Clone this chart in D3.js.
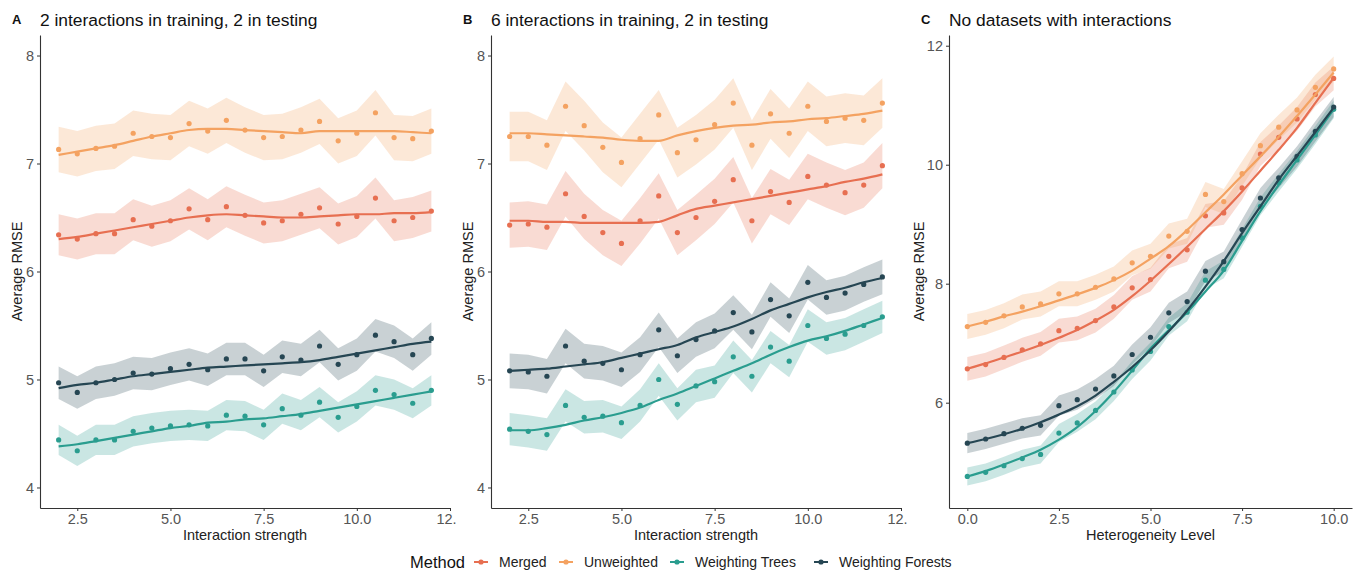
<!DOCTYPE html>
<html>
<head>
<meta charset="utf-8">
<script src="https://cdn.jsdelivr.net/npm/d3@7"></script>
<style>
  body { margin: 0; background: #fff; }
  svg { font-family: "Liberation Sans", Arial, sans-serif; }
</style>
</head>
<body>
<div id="chart"></div>
<script>
// x levels
const strengthLevels = [2, 2.5, 3, 3.5, 4, 4.5, 5, 5.5, 6, 6.5, 7, 7.5, 8, 8.5, 9, 9.5, 10, 10.5, 11, 11.5, 12];
const heterogeneityLevels = [0, 0.5, 1, 1.5, 2, 2.5, 3, 3.5, 4, 4.5, 5, 5.5, 6, 6.5, 7, 7.5, 8, 8.5, 9, 9.5, 10];

const methods = ['Merged', 'Unweighted', 'Weighting Trees', 'Weighting Forests'];
const methodColors = ['#e76f51', '#f4a261', '#2a9d8f', '#264653'];

// panel A: 2 interactions in training, 2 in testing
const aMerged = [6.34, 6.30, 6.35, 6.35, 6.48, 6.42, 6.47, 6.58, 6.48, 6.60, 6.52, 6.45, 6.47, 6.53, 6.59, 6.44, 6.51, 6.68, 6.47, 6.50, 6.56];
const aUnweighted = [7.13, 7.09, 7.14, 7.16, 7.28, 7.25, 7.24, 7.37, 7.30, 7.40, 7.31, 7.24, 7.25, 7.31, 7.39, 7.21, 7.28, 7.47, 7.24, 7.23, 7.30];
const aTrees = [4.44, 4.34, 4.44, 4.44, 4.52, 4.55, 4.57, 4.58, 4.57, 4.67, 4.66, 4.58, 4.73, 4.67, 4.79, 4.65, 4.75, 4.90, 4.86, 4.78, 4.90];
const aForests = [4.97, 4.88, 4.97, 5.00, 5.06, 5.05, 5.10, 5.14, 5.09, 5.19, 5.19, 5.08, 5.21, 5.18, 5.31, 5.14, 5.23, 5.41, 5.35, 5.23, 5.38];
const aMergedFit = [6.30, 6.32, 6.35, 6.38, 6.41, 6.44, 6.47, 6.50, 6.52, 6.53, 6.52, 6.51, 6.50, 6.50, 6.51, 6.52, 6.53, 6.53, 6.54, 6.54, 6.55];
const aUnweightedFit = [7.08, 7.11, 7.14, 7.17, 7.21, 7.25, 7.28, 7.31, 7.32, 7.32, 7.31, 7.30, 7.29, 7.28, 7.30, 7.30, 7.30, 7.30, 7.30, 7.29, 7.28];
const aTreesFit = [4.38, 4.40, 4.43, 4.46, 4.49, 4.52, 4.55, 4.57, 4.60, 4.61, 4.63, 4.64, 4.66, 4.68, 4.71, 4.74, 4.77, 4.80, 4.83, 4.86, 4.89];
const aForestsFit = [4.92, 4.95, 4.97, 5.00, 5.03, 5.05, 5.07, 5.09, 5.11, 5.12, 5.13, 5.14, 5.15, 5.16, 5.18, 5.21, 5.24, 5.27, 5.30, 5.33, 5.35];
const aBand = [0.19, 0.21, 0.14, 0.15];

// panel B: 6 interactions in training, 2 in testing
const bMerged = [6.43, 6.44, 6.41, 6.72, 6.51, 6.36, 6.26, 6.47, 6.70, 6.36, 6.50, 6.65, 6.85, 6.47, 6.74, 6.64, 6.88, 6.80, 6.73, 6.80, 6.98];
const bUnweighted = [7.25, 7.25, 7.17, 7.53, 7.35, 7.15, 7.01, 7.23, 7.45, 7.10, 7.22, 7.36, 7.56, 7.17, 7.46, 7.28, 7.53, 7.39, 7.42, 7.40, 7.56];
const bTrees = [4.54, 4.52, 4.49, 4.76, 4.65, 4.66, 4.60, 4.76, 5.00, 4.77, 4.94, 4.98, 5.21, 5.03, 5.30, 5.17, 5.50, 5.38, 5.42, 5.50, 5.58];
const bForests = [5.08, 5.07, 5.03, 5.31, 5.17, 5.15, 5.09, 5.23, 5.46, 5.22, 5.37, 5.45, 5.62, 5.44, 5.74, 5.59, 5.90, 5.76, 5.80, 5.88, 5.95];
const bMergedFit = [6.47, 6.47, 6.46, 6.46, 6.45, 6.45, 6.45, 6.45, 6.46, 6.52, 6.58, 6.61, 6.64, 6.67, 6.70, 6.73, 6.76, 6.79, 6.83, 6.86, 6.90];
const bUnweightedFit = [7.28, 7.28, 7.27, 7.26, 7.25, 7.24, 7.22, 7.21, 7.21, 7.26, 7.30, 7.33, 7.35, 7.36, 7.38, 7.39, 7.41, 7.42, 7.44, 7.46, 7.49];
const bTreesFit = [4.53, 4.53, 4.55, 4.58, 4.62, 4.65, 4.69, 4.74, 4.81, 4.87, 4.94, 5.01, 5.08, 5.15, 5.23, 5.30, 5.36, 5.40, 5.45, 5.51, 5.57];
const bForestsFit = [5.08, 5.09, 5.10, 5.12, 5.14, 5.16, 5.20, 5.24, 5.28, 5.32, 5.39, 5.44, 5.49, 5.56, 5.64, 5.70, 5.76, 5.81, 5.85, 5.90, 5.94];
const bBand = [0.21, 0.23, 0.15, 0.16];

// panel C: no datasets with interactions
const cMerged = [6.57, 6.64, 6.76, 6.89, 6.99, 7.21, 7.25, 7.38, 7.61, 7.93, 8.07, 8.46, 8.57, 9.14, 9.19, 9.61, 10.18, 10.46, 10.77, 11.18, 11.45];
const cUnweighted = [7.28, 7.35, 7.46, 7.61, 7.66, 7.83, 7.83, 7.94, 8.08, 8.35, 8.46, 8.80, 8.88, 9.50, 9.38, 9.85, 10.32, 10.63, 10.92, 11.30, 11.61];
const cTrees = [4.76, 4.83, 4.94, 5.06, 5.13, 5.49, 5.66, 5.87, 6.18, 6.55, 6.86, 7.28, 7.52, 8.06, 8.24, 8.77, 9.30, 9.70, 10.08, 10.50, 10.93];
const cForests = [5.32, 5.39, 5.48, 5.57, 5.62, 5.95, 6.05, 6.23, 6.45, 6.81, 7.10, 7.51, 7.70, 8.21, 8.37, 8.91, 9.44, 9.78, 10.14, 10.56, 10.97];
const cMergedFit = [6.57, 6.66, 6.76, 6.86, 6.97, 7.09, 7.22, 7.38, 7.56, 7.79, 8.05, 8.33, 8.62, 8.92, 9.22, 9.55, 9.90, 10.25, 10.62, 11.04, 11.46];
const cUnweightedFit = [7.28, 7.36, 7.45, 7.53, 7.62, 7.72, 7.82, 7.93, 8.06, 8.22, 8.42, 8.63, 8.90, 9.20, 9.50, 9.82, 10.14, 10.47, 10.82, 11.18, 11.55];
const cTreesFit = [4.76, 4.85, 4.96, 5.08, 5.21, 5.38, 5.59, 5.86, 6.18, 6.54, 6.91, 7.22, 7.52, 7.87, 8.22, 8.72, 9.22, 9.66, 10.08, 10.50, 10.93];
const cForestsFit = [5.32, 5.39, 5.47, 5.56, 5.67, 5.80, 5.94, 6.12, 6.35, 6.60, 6.88, 7.20, 7.55, 7.95, 8.38, 8.85, 9.30, 9.75, 10.15, 10.55, 10.96];
const cBand = [0.20, 0.21, 0.15, 0.17];

const width = 1363;
const height = 574;

const panels = [
  {
    tag: 'A', title: '2 interactions in training, 2 in testing', xLabel: 'Interaction strength',
    xs: strengthLevels, points: [aMerged, aUnweighted, aTrees, aForests],
    fits: [aMergedFit, aUnweightedFit, aTreesFit, aForestsFit], band: aBand,
    xDomain: [1.5, 12.5], yDomain: [3.81, 8.19], xTicks: [2.5, 5, 7.5, 10, 12.5], yTicks: [4, 5, 6, 7, 8],
    clip: [0, 456], left: 40, right: 450, yTitleGap: 18
  },
  {
    tag: 'B', title: '6 interactions in training, 2 in testing', xLabel: 'Interaction strength',
    xs: strengthLevels, points: [bMerged, bUnweighted, bTrees, bForests],
    fits: [bMergedFit, bUnweightedFit, bTreesFit, bForestsFit], band: bBand,
    xDomain: [1.5, 12.5], yDomain: [3.81, 8.19], xTicks: [2.5, 5, 7.5, 10, 12.5], yTicks: [4, 5, 6, 7, 8],
    clip: [456, 907], left: 491, right: 901, yTitleGap: 18
  },
  {
    tag: 'C', title: 'No datasets with interactions', xLabel: 'Heterogeneity Level',
    xs: heterogeneityLevels, points: [cMerged, cUnweighted, cTrees, cForests],
    fits: [cMergedFit, cUnweightedFit, cTreesFit, cForestsFit], band: cBand,
    xDomain: [-0.5, 10.5], yDomain: [4.23, 12.18], xTicks: [0, 2.5, 5, 7.5, 10], yTicks: [6, 8, 10, 12],
    clip: [907, 1363], left: 949, right: 1352, yTitleGap: 25
  }
];

const plotTop = 35;
const plotBottom = 508;

const svg = d3.select('#chart').append('svg')
  .attr('width', width)
  .attr('height', height);

const defs = svg.append('defs');

panels.forEach((p, pi) => {
  defs.append('clipPath').attr('id', 'clip' + pi)
    .append('rect')
      .attr('x', p.clip[0]).attr('y', 0)
      .attr('width', p.clip[1] - p.clip[0]).attr('height', height);

  const g = svg.append('g').attr('clip-path', `url(#clip${pi})`);

  const x = d3.scaleLinear().domain(p.xDomain).range([p.left, p.right]);
  const y = d3.scaleLinear().domain(p.yDomain).range([plotBottom, plotTop]);

  // ribbons
  p.points.forEach((vals, si) => {
    const area = d3.area()
      .x((d, i) => x(p.xs[i]))
      .y0(d => y(d - p.band[si]))
      .y1(d => y(d + p.band[si]));
    g.append('path')
      .datum(vals)
      .attr('d', area)
      .attr('fill', methodColors[si])
      .attr('fill-opacity', 0.25);
  });

  // points
  p.points.forEach((vals, si) => {
    g.append('g').selectAll('circle')
      .data(vals)
      .enter().append('circle')
        .attr('cx', (d, i) => x(p.xs[i]))
        .attr('cy', d => y(d))
        .attr('r', 2.6)
        .attr('fill', methodColors[si]);
  });

  // smooth fits
  p.fits.forEach((vals, si) => {
    const line = d3.line()
      .x((d, i) => x(p.xs[i]))
      .y(d => y(d))
      .curve(d3.curveMonotoneX);
    g.append('path')
      .datum(vals)
      .attr('d', line)
      .attr('fill', 'none')
      .attr('stroke', methodColors[si])
      .attr('stroke-width', 2.2);
  });

  // axes
  const xAxis = d3.axisBottom(x)
    .tickValues(p.xTicks)
    .tickFormat(d3.format('.1f'))
    .tickSizeInner(3)
    .tickSizeOuter(0)
    .tickPadding(3);
  const yAxis = d3.axisLeft(y)
    .tickValues(p.yTicks)
    .tickFormat(d3.format('d'))
    .tickSizeInner(3)
    .tickSizeOuter(0)
    .tickPadding(3);

  const xg = g.append('g')
    .attr('transform', `translate(0, ${plotBottom})`)
    .call(xAxis);
  const yg = g.append('g')
    .attr('transform', `translate(${p.left}, 0)`)
    .call(yAxis);

  [xg, yg].forEach(ax => {
    ax.select('.domain').attr('stroke', '#333').attr('stroke-width', 1.1);
    ax.selectAll('.tick line').attr('stroke', '#333');
    ax.selectAll('.tick text')
      .attr('fill', '#555')
      .style('font-size', '14.5px')
      .style('font-family', '"Liberation Sans", Arial, sans-serif');
  });

  g.append('text')
    .attr('x', (p.left + p.right) / 2)
    .attr('y', 540)
    .attr('text-anchor', 'middle')
    .attr('fill', '#222')
    .style('font-size', '14.5px')
    .text(p.xLabel);

  g.append('text')
    .attr('transform', `translate(${p.left - p.yTitleGap}, ${(plotTop + plotBottom) / 2}) rotate(-90)`)
    .attr('text-anchor', 'middle')
    .attr('fill', '#222')
    .style('font-size', '14.5px')
    .text('Average RMSE');

  g.append('text')
    .attr('x', p.left - 28)
    .attr('y', 24)
    .attr('fill', '#111')
    .style('font-size', '13px')
    .style('font-weight', 'bold')
    .text(p.tag);

  g.append('text')
    .attr('x', p.left)
    .attr('y', 26)
    .attr('fill', '#111')
    .style('font-size', '17.4px')
    .text(p.title);
});

// legend
const legend = svg.append('g').attr('transform', 'translate(0, 562)');
legend.append('text')
  .attr('x', 410)
  .attr('y', 6)
  .attr('fill', '#111')
  .style('font-size', '16.5px')
  .text('Method');

const keyX = [481, 566, 677, 821];
methods.forEach((m, i) => {
  const k = legend.append('g').attr('transform', `translate(${keyX[i]}, 0)`);
  k.append('line')
    .attr('x1', -7).attr('x2', 7)
    .attr('stroke', methodColors[i])
    .attr('stroke-width', 2);
  k.append('circle')
    .attr('r', 2.6)
    .attr('fill', methodColors[i]);
  k.append('text')
    .attr('x', 18)
    .attr('y', 5)
    .attr('fill', '#222')
    .style('font-size', '14px')
    .text(m);
});
</script>
</body>
</html>
